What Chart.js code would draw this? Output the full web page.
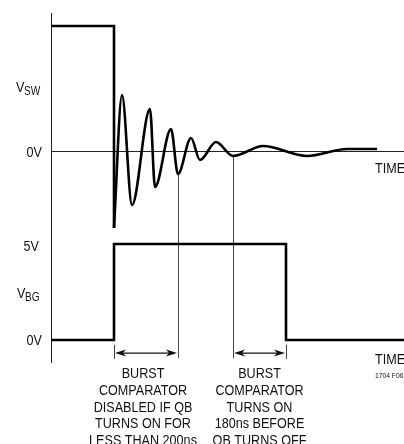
<!DOCTYPE html>
<html>
<head>
<meta charset="utf-8">
<script src="https://cdn.jsdelivr.net/npm/chart.js@4"></script>
<style>
  body { margin: 0; background: #fff; }
  canvas { display: block; }
</style>
</head>
<body>
<canvas id="chart" width="404" height="444"></canvas>
<script>
// time axis (arbitrary units, 0 = vertical axis)
const swStepTime = [0, 63, 63];
const swStepVolts = [6.25, 6.25, -3.85];
const swRingTime = [63, 71, 81, 99, 104, 120, 127, 140, 149, 165, 182, 212, 256, 296, 326];
const swRingVolts = [-3.85, 2.8, -2.7, 2.1, -1.8, 1.1, -1.15, 0.65, -0.45, 0.45, -0.25, 0.25, -0.25, 0.1, 0.1];
const bgTime = [0, 63, 63, 235, 235, 353];
const bgVolts = [0, 0, 5, 5, 0, 0];

const markTimes = [127, 182];
const spanA = [63, 127];
const spanB = [182, 235];
const noteA = ["BURST", "COMPARATOR", "DISABLED IF QB", "TURNS ON FOR", "LESS THAN 200ns"];
const noteB = ["BURST", "COMPARATOR", "TURNS ON", "180ns BEFORE", "QB TURNS OFF"];

// no narrow font installed, so squeeze Liberation Sans sideways
const FONT = '"Liberation Sans", Arial, sans-serif';
const SQUEEZE = 0.84;

function pts(xs, ys) {
  return xs.map((x, i) => ({ x: x, y: ys[i] }));
}

function txt(ctx, s, px, py, size, align) {
  ctx.save();
  ctx.translate(px, py);
  ctx.scale(SQUEEZE, 1);
  ctx.font = size + "px " + FONT;
  ctx.textAlign = align || "left";
  ctx.fillText(s, 0, 0);
  const w = ctx.measureText(s).width * SQUEEZE;
  ctx.restore();
  return w;
}

const drawing = {
  id: "drawing",
  beforeDatasetsDraw(chart) {
    const ctx = chart.ctx;
    const x = chart.scales.x;
    const sw = chart.scales.vsw;
    const bg = chart.scales.vbg;
    const x0 = x.getPixelForValue(0);
    ctx.save();
    ctx.strokeStyle = "#222";
    ctx.lineWidth = 1;
    // vertical axis
    ctx.beginPath();
    ctx.moveTo(x0 + 0.5, sw.getPixelForValue(6.9));
    ctx.lineTo(x0 + 0.5, bg.getPixelForValue(-1.2));
    ctx.stroke();
    // 0V line of V_SW
    const y0 = Math.round(sw.getPixelForValue(0)) + 0.5;
    ctx.beginPath();
    ctx.moveTo(x0, y0);
    ctx.lineTo(x.getPixelForValue(353), y0);
    ctx.stroke();
    // marker lines
    ctx.strokeStyle = "#444";
    const yEnd = bg.getPixelForValue(-0.95);
    ctx.beginPath();
    ctx.moveTo(Math.round(x.getPixelForValue(markTimes[0])) + 0.5, sw.getPixelForValue(-1.15));
    ctx.lineTo(Math.round(x.getPixelForValue(markTimes[0])) + 0.5, yEnd);
    ctx.moveTo(Math.round(x.getPixelForValue(markTimes[1])) + 0.5, sw.getPixelForValue(-0.3));
    ctx.lineTo(Math.round(x.getPixelForValue(markTimes[1])) + 0.5, yEnd);
    // ticks at edges
    [spanA[0], spanB[1]].forEach(t => {
      const px = Math.round(x.getPixelForValue(t)) + 0.5;
      ctx.moveTo(px, bg.getPixelForValue(-0.25));
      ctx.lineTo(px, bg.getPixelForValue(-0.98));
    });
    ctx.stroke();

    // arrows
    const ya = bg.getPixelForValue(-0.68);
    [spanA, spanB].forEach(s => {
      const a = x.getPixelForValue(s[0]) + 1;
      const b = x.getPixelForValue(s[1]) - 1;
      ctx.strokeStyle = "#111";
      ctx.lineWidth = 1.3;
      ctx.beginPath();
      ctx.moveTo(a + 5, ya);
      ctx.lineTo(b - 5, ya);
      ctx.stroke();
      ctx.fillStyle = "#111";
      ctx.beginPath();
      ctx.moveTo(a, ya);
      ctx.lineTo(a + 11, ya - 3.5);
      ctx.lineTo(a + 8, ya);
      ctx.lineTo(a + 11, ya + 3.5);
      ctx.closePath();
      ctx.fill();
      ctx.beginPath();
      ctx.moveTo(b, ya);
      ctx.lineTo(b - 11, ya - 3.5);
      ctx.lineTo(b - 8, ya);
      ctx.lineTo(b - 11, ya + 3.5);
      ctx.closePath();
      ctx.fill();
    });
    ctx.restore();
  },
  afterDatasetsDraw(chart) {
    const ctx = chart.ctx;
    const x = chart.scales.x;
    const sw = chart.scales.vsw;
    const bg = chart.scales.vbg;
    ctx.save();
    ctx.fillStyle = "#111";
    ctx.textBaseline = "alphabetic";

    // left labels
    txt(ctx, "0V", 42, sw.getPixelForValue(0) + 6, 15, "right");
    txt(ctx, "5V", 39, bg.getPixelForValue(5) + 7, 15, "right");
    txt(ctx, "0V", 42, bg.getPixelForValue(0) + 5, 15, "right");

    function sub(main, s, px, py) {
      const w = txt(ctx, main, px, py, 15);
      txt(ctx, s, px + w - 0.5, py + 3, 12);
    }
    sub("V", "SW", 16, 92);
    sub("V", "BG", 17, 298);

    // TIME labels
    txt(ctx, "TIME", 375, 173, 15);
    txt(ctx, "TIME", 375, 364, 15);
    txt(ctx, "1704 F06", 375, 378, 8);

    // notes
    const cA = (x.getPixelForValue(spanA[0]) + x.getPixelForValue(spanA[1])) / 2 - 3;
    const cB = (x.getPixelForValue(spanB[0]) + x.getPixelForValue(spanB[1])) / 2;
    noteA.forEach((t, i) => txt(ctx, t, cA, 378 + i * 16.8, 15, "center"));
    noteB.forEach((t, i) => txt(ctx, t, cB, 378 + i * 16.8, 15, "center"));
    ctx.restore();
  }
};

new Chart(document.getElementById("chart"), {
  type: "scatter",
  data: {
    datasets: [
      {
        data: pts(swStepTime, swStepVolts),
        yAxisID: "vsw",
        showLine: true,
        borderColor: "#000",
        borderWidth: 2.6,
        borderJoinStyle: "miter",
        pointRadius: 0,
        tension: 0,
        clip: false
      },
      {
        data: pts(swRingTime, swRingVolts),
        yAxisID: "vsw",
        showLine: true,
        borderColor: "#000",
        borderWidth: 2.6,
        pointRadius: 0,
        cubicInterpolationMode: "monotone",
        clip: false
      },
      {
        data: pts(bgTime, bgVolts),
        yAxisID: "vbg",
        showLine: true,
        borderColor: "#000",
        borderWidth: 2.6,
        borderJoinStyle: "miter",
        pointRadius: 0,
        tension: 0,
        clip: false
      }
    ]
  },
  options: {
    responsive: false,
    animation: false,
    devicePixelRatio: 1,
    layout: { padding: 0 },
    plugins: { legend: { display: false }, tooltip: { enabled: false } },
    scales: {
      x: { type: "linear", min: -51, max: 353, display: false },
      vsw: { type: "linear", position: "left", min: -14.65, max: 7.55, display: false },
      vbg: { type: "linear", position: "left", min: -5.4167, max: 17.7083, display: false }
    }
  },
  plugins: [drawing]
});
</script>
</body>
</html>
